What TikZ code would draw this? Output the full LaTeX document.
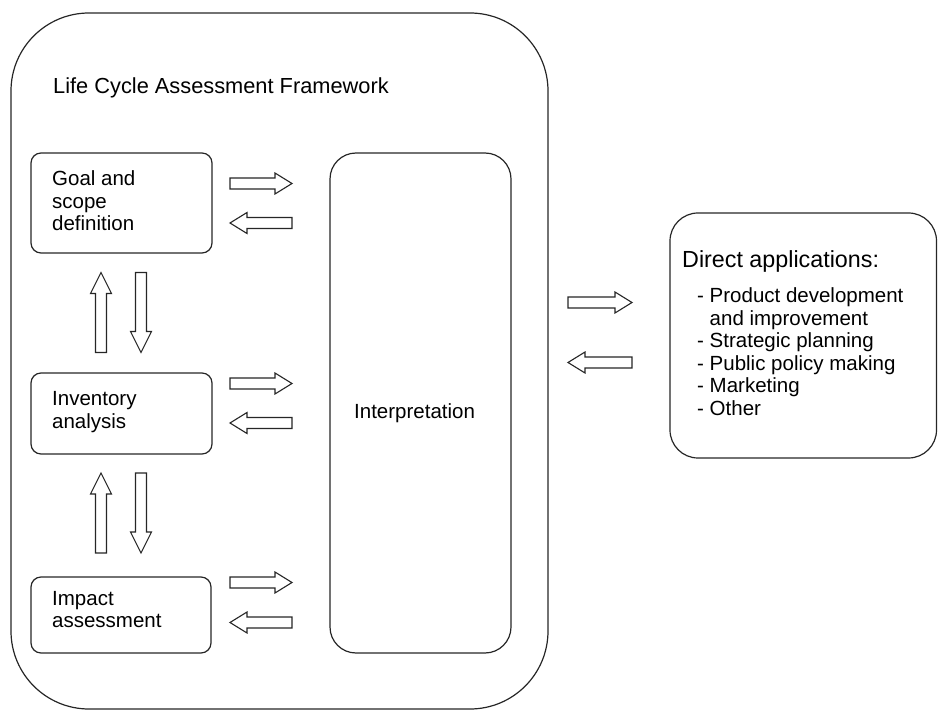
\documentclass[tikz,border=0pt]{standalone}
\usepackage{fontspec}
\setmainfont{Liberation Sans}
\newcommand\blkarrow[2]{(-#1,-5.5) -- ({#1-#2},-5.5) -- ({#1-#2},-10.5) -- (#1,0) -- ({#1-#2},10.5) -- ({#1-#2},5.5) -- (-#1,5.5) -- cycle}
\tikzset{
 roundbox/.style={draw=black!85, line width=1.2pt, rounded corners=#1, inner sep=0pt, outer sep=0pt},
 lbl/.style={font=\fontsize{20.5}{22.5}\selectfont, align=left, anchor=base west, inner sep=0pt},
 arrline/.style={draw=black!85, line width=1.1pt, fill=white, line join=miter},
 harrow/.pic={\path[arrline] \blkarrow{31}{17};},
 varrow/.pic={\path[arrline] \blkarrow{40}{21};},
 darrow/.pic={\path[arrline] \blkarrow{32}{17};},
}
\begin{document}
\begin{tikzpicture}[x=1pt,y=-1pt]
\useasboundingbox (0,0) rectangle (938,711);
% boxes
\node[roundbox=78pt, minimum width=537pt, minimum height=696pt] (lca) at (279.5,361) {};
\node[roundbox=10pt, minimum width=181pt, minimum height=100pt] (goal) at (121.5,203) {};
\node[roundbox=10pt, minimum width=181pt, minimum height=81pt] (inv) at (121.5,413.5) {};
\node[roundbox=10pt, minimum width=180pt, minimum height=76pt] (imp) at (121,615) {};
\node[roundbox=26pt, minimum width=181pt, minimum height=500pt] (intp) at (420.5,403) {};
\node[roundbox=28pt, minimum width=266.5pt, minimum height=245pt] (dir) at (803.25,335.5) {};
% block arrows
\pic (g2i) at (261,183.5) {harrow};
\pic[rotate=180] (i2g) at (261,223) {harrow};
\pic (v2i) at (261,383.5) {harrow};
\pic[rotate=180] (i2v) at (261,423) {harrow};
\pic (m2i) at (261,582.5) {harrow};
\pic[rotate=180] (i2m) at (261,622.5) {harrow};
\pic[rotate=90] (v2g) at (101,312.5) {varrow};
\pic[rotate=-90] (g2v) at (141,312.5) {varrow};
\pic[rotate=90] (m2v) at (101,513) {varrow};
\pic[rotate=-90] (v2m) at (141,513) {varrow};
\pic (l2d) at (600,302.5) {darrow};
\pic[rotate=180] (d2l) at (600,362.5) {darrow};
% texts (multi-line nodes: base anchor = last line's baseline)
\node[lbl, font=\fontsize{21.8}{22.5}\selectfont] (ttl) at (53,94) {Life Cycle Assessment Framework};
\node[lbl] (tg) at (52,231) {Goal and\\scope\\definition};
\node[lbl] (ti) at (52,428.5) {Inventory\\analysis};
\node[lbl] (tm) at (52,627.5) {Impact\\assessment};
\node[lbl] (tint) at (354,419) {Interpretation};
\node[lbl, font=\fontsize{23.3}{26}\selectfont] (tda) at (682,268) {Direct applications:};
\node[lbl] (tlist) at (697,415.5) {- Product development\\\hphantom{- }and improvement\\- Strategic planning\\- Public policy making\\- Marketing\\- Other};
\end{tikzpicture}
\end{document}
